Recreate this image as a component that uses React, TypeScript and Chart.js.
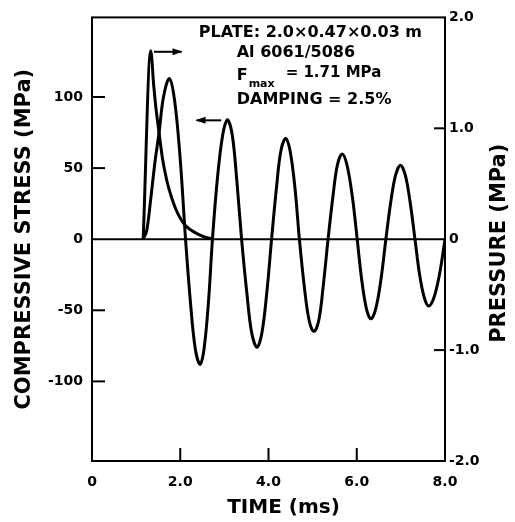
import React, { useEffect, useRef } from "react";
import { Chart, registerables } from "chart.js";

Chart.register(...registerables);

// ---- data ----
const stressTime = [
  1.16, 1.24, 1.33, 1.43, 1.52, 1.62, 1.75, 1.87, 2.0, 2.12,
  2.23, 2.34, 2.45, 2.54, 2.64, 2.73,
  2.84, 2.96, 3.07, 3.18, 3.28, 3.39,
  3.51, 3.62, 3.74, 3.85, 3.96, 4.07,
  4.18, 4.28, 4.39, 4.49, 4.6, 4.7,
  4.81, 4.92, 5.03, 5.14, 5.24, 5.35,
  5.46, 5.56, 5.67, 5.78, 5.9, 6.01,
  6.11, 6.22, 6.32, 6.43, 6.55, 6.66,
  6.77, 6.88, 6.99, 7.1, 7.21, 7.32,
  7.42, 7.53, 7.63, 7.75, 7.88, 8.0,
];
const stressValues = [
  0, 6, 28, 55, 75, 100, 113, 98, 56, 0,
  -44, -77, -88, -77, -44, 0,
  42, 73, 84, 73, 42, 0,
  -38, -66, -76, -66, -38, 0,
  36, 62, 71, 62, 36, 0,
  -33, -57, -65, -57, -33, 0,
  30, 52, 60, 52, 30, 0,
  -28, -49, -56, -49, -28, 0,
  26, 45, 52, 45, 26, 0,
  -24, -41, -47, -41, -24, 0,
];
const pressureTime = [1.16, 1.33, 1.4, 1.45, 1.52, 1.6, 1.7, 1.8, 1.9, 2.0, 2.1, 2.25, 2.4, 2.55, 2.75];
const pressureValues = [0, 1.7, 1.38, 1.18, 0.96, 0.72, 0.52, 0.38, 0.27, 0.19, 0.13, 0.08, 0.045, 0.02, 0];

const timeTicks = [0, 2, 4, 6, 8];
const timeTickLabels = ["0", "2.0", "4.0", "6.0", "8.0"];
const stressTicks = [100, 50, 0, -50, -100];
const stressTickLabels = ["100", "50", "0", "-50", "-100"];
const pressureTicks = [2, 1, 0, -1, -2];
const pressureTickLabels = ["2.0", "1.0", "0", "-1.0", "-2.0"];

const xTitle = "TIME (ms)";
const yTitle = "COMPRESSIVE STRESS (MPa)";
const y1Title = "PRESSURE (MPa)";
const noteLines = ["PLATE: 2.0×0.47×0.03 m", "Al 6061/5086", "DAMPING = 2.5%"];
const noteF = ["F", "max", "= 1.71 MPa"];

const FONT = '"DejaVu Sans", "Liberation Sans", sans-serif';

const overlayPlugin = {
  id: "overlay",
  beforeDraw(chart: any) {
    const ctx = chart.ctx;
    ctx.save();
    ctx.fillStyle = "#fff";
    ctx.fillRect(0, 0, chart.width, chart.height);
    ctx.restore();
  },
  afterDraw(chart: any) {
    const ctx = chart.ctx;
    const { left, right, top, bottom } = chart.chartArea;
    const xs = chart.scales.x;
    const ys = chart.scales.y;
    const y1s = chart.scales.y1;
    ctx.save();
    ctx.strokeStyle = "#000";
    ctx.fillStyle = "#000";
    // frame
    ctx.lineWidth = 2;
    ctx.strokeRect(left, top, right - left, bottom - top);
    // zero line
    const y0 = ys.getPixelForValue(0);
    ctx.beginPath();
    ctx.moveTo(left, y0);
    ctx.lineTo(right, y0);
    ctx.stroke();
    // inward ticks
    ctx.lineWidth = 2;
    stressTicks.forEach((v) => {
      if (v === 0) return;
      const p = ys.getPixelForValue(v);
      ctx.beginPath();
      ctx.moveTo(left, p);
      ctx.lineTo(left + 13, p);
      ctx.stroke();
    });
    pressureTicks.forEach((v) => {
      if (v === 0 || Math.abs(v) === 2) return;
      const p = y1s.getPixelForValue(v);
      ctx.beginPath();
      ctx.moveTo(right, p);
      ctx.lineTo(right - 11, p);
      ctx.stroke();
    });
    timeTicks.forEach((v) => {
      if (v === 0 || v === 8) return;
      const p = xs.getPixelForValue(v);
      ctx.beginPath();
      ctx.moveTo(p, bottom);
      ctx.lineTo(p, bottom - 13);
      ctx.stroke();
    });
    // arrows
    const arrow = (x1: number, x2: number, y: number) => {
      ctx.lineWidth = 2;
      ctx.beginPath();
      ctx.moveTo(x1, y);
      ctx.lineTo(x2, y);
      ctx.stroke();
      const d = Math.sign(x2 - x1);
      ctx.beginPath();
      ctx.moveTo(x2 + d * 1, y);
      ctx.lineTo(x2 - d * 9, y - 3.5);
      ctx.lineTo(x2 - d * 9, y + 3.5);
      ctx.closePath();
      ctx.fill();
    };
    arrow(xs.getPixelForValue(1.405), xs.getPixelForValue(2.03), y1s.getPixelForValue(1.69));
    arrow(xs.getPixelForValue(2.93), xs.getPixelForValue(2.37), ys.getPixelForValue(83.6));

    // notes
    ctx.textBaseline = "middle";
    ctx.textAlign = "left";
    ctx.font = `bold 16px ${FONT}`;
    ctx.fillText(noteLines[0], xs.getPixelForValue(2.42), ys.getPixelForValue(145));
    const nx = xs.getPixelForValue(3.28);
    ctx.fillText(noteLines[1], nx, ys.getPixelForValue(131));
    ctx.fillText(noteLines[2], nx, ys.getPixelForValue(98));
    const fy = ys.getPixelForValue(115);
    ctx.fillText(noteF[0], nx, fy);
    const fw = ctx.measureText(noteF[0]).width;
    ctx.font = `bold 11px ${FONT}`;
    ctx.fillText(noteF[1], nx + fw + 1, fy + 8);
    const mw = ctx.measureText(noteF[1]).width;
    ctx.font = `bold 15px ${FONT}`;
    ctx.fillText(noteF[2], nx + fw + mw + 12, fy - 3);

    // axis titles
    ctx.font = `bold 21px ${FONT}`;
    ctx.textAlign = "center";
    ctx.save();
    ctx.translate(25, (top + bottom) / 2);
    ctx.rotate(-Math.PI / 2);
    ctx.fillText(yTitle, 0, 0);
    ctx.restore();
    ctx.save();
    ctx.translate(500, (top + bottom) / 2 + 4);
    ctx.rotate(-Math.PI / 2);
    ctx.fillText(y1Title, 0, 0);
    ctx.restore();
    ctx.font = `bold 20px ${FONT}`;
    ctx.fillText(xTitle, (left + right) / 2 + 15, 508);
    ctx.restore();
  },
};

export default function App() {
  const ref = useRef<HTMLCanvasElement | null>(null);
  useEffect(() => {
    document.body.style.margin = "0";
    if (!ref.current) return;
    const tickFont = { family: FONT, weight: "bold" as const, size: 14 };
    const chart = new Chart(ref.current, {
      type: "line",
      data: {
        datasets: [
          {
            data: stressTime.map((t, i) => ({ x: t, y: stressValues[i] })),
            yAxisID: "y",
            borderColor: "#000",
            borderWidth: 3,
            borderJoinStyle: "round",
            pointRadius: 0,
            tension: 0.35,
            fill: false,
          },
          {
            data: pressureTime.map((t, i) => ({ x: t, y: pressureValues[i] })),
            yAxisID: "y1",
            borderColor: "#000",
            borderWidth: 3,
            borderJoinStyle: "round",
            pointRadius: 0,
            tension: 0.4,
            cubicInterpolationMode: "monotone",
            fill: false,
          },
        ],
      },
      options: {
        responsive: false,
        animation: false,
        events: [],
        layout: { padding: { top: 13, left: 0, right: 0, bottom: 0 } },
        plugins: { legend: { display: false }, tooltip: { enabled: false }, title: { display: false } },
        scales: {
          x: {
            type: "linear",
            min: 0,
            max: 8,
            grid: { display: false, drawTicks: false },
            border: { display: false },
            afterBuildTicks: (s: any) => {
              s.ticks = timeTicks.map((v) => ({ value: v }));
            },
            afterFit: (s: any) => {
              s.height = 61;
            },
            ticks: {
              font: tickFont,
              color: "#000",
              padding: 13,
              maxRotation: 0,
              autoSkip: false,
              callback: (v: any) => timeTickLabels[timeTicks.indexOf(Number(v))] ?? "",
            },
          },
          y: {
            type: "linear",
            position: "left",
            min: -156,
            max: 156,
            grid: { display: false, drawTicks: false },
            border: { display: false },
            afterBuildTicks: (s: any) => {
              s.ticks = stressTicks.map((v) => ({ value: v }));
            },
            afterFit: (s: any) => {
              s.width = 92;
            },
            ticks: {
              font: tickFont,
              color: "#000",
              padding: 9,
              autoSkip: false,
              callback: (v: any) => stressTickLabels[stressTicks.indexOf(Number(v))] ?? "",
            },
          },
          y1: {
            type: "linear",
            position: "right",
            min: -2,
            max: 2,
            grid: { display: false, drawTicks: false },
            border: { display: false },
            afterBuildTicks: (s: any) => {
              s.ticks = pressureTicks.map((v) => ({ value: v }));
            },
            afterFit: (s: any) => {
              s.width = 70;
            },
            ticks: {
              font: tickFont,
              color: "#000",
              padding: 4,
              autoSkip: false,
              callback: (v: any) => pressureTickLabels[pressureTicks.indexOf(Number(v))] ?? "",
            },
          },
        },
      },
      plugins: [overlayPlugin],
    });
    return () => chart.destroy();
  }, []);
  return (
    <div style={{ width: 515, height: 522 }}>
      <canvas ref={ref} width={515} height={522} style={{ display: "block" }} />
    </div>
  );
}
